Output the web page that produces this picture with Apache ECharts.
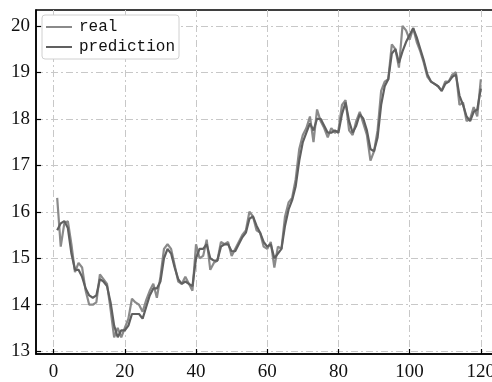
<!DOCTYPE html>
<html>
<head>
<meta charset="utf-8">
<script src="https://cdn.jsdelivr.net/npm/echarts@6/dist/echarts.min.js"></script>
<style>
  html, body { margin: 0; padding: 0; background: #fff; overflow: hidden; }
  /* the original figure is cropped on the right, so the canvas is wider than the window */
  #chart { width: 512px; height: 382px; }
</style>
</head>
<body>
<div id="chart"></div>
<script>
// time steps 1..120
const steps = Array.from({ length: 120 }, (_, i) => i + 1);

const real = [
  16.3, 15.25, 15.75, 15.8, 15.3, 14.7, 14.9, 14.8, 14.3, 14.0,
  14.0, 14.05, 14.65, 14.55, 14.45, 13.9, 13.3, 13.5, 13.3, 13.5,
  13.7, 14.13, 14.05, 14.0, 13.85, 14.1, 14.3, 14.45, 14.15, 14.6,
  15.2, 15.3, 15.2, 14.85, 14.5, 14.45, 14.6, 14.45, 14.3, 15.3,
  15.0, 15.05, 15.4, 14.75, 14.9, 14.95, 15.35, 15.3, 15.35, 15.05,
  15.2, 15.35, 15.5, 15.6, 16.0, 15.9, 15.6, 15.55, 15.25, 15.2,
  15.35, 14.8, 15.25, 15.2, 15.9, 16.2, 16.3, 16.7, 17.35, 17.65,
  17.8, 18.05, 17.5, 18.2, 17.95, 17.8, 17.6, 17.8, 17.7, 17.75,
  18.3, 18.4, 17.75, 17.65, 17.95, 18.15, 17.9, 17.65, 17.1, 17.3,
  17.75, 18.6, 18.8, 18.85, 19.6, 19.5, 19.1, 20.0, 19.9, 19.7,
  19.95, 19.65, 19.45, 19.2, 18.9, 18.8, 18.75, 18.7, 18.6, 18.8,
  18.8, 18.95, 19.0, 18.3, 18.35, 17.95, 18.0, 18.25, 18.05, 18.85
];

const prediction = [
  15.6, 15.75, 15.8, 15.65, 15.1, 14.75, 14.75, 14.6, 14.35, 14.2,
  14.15, 14.2, 14.55, 14.5, 14.4, 14.05, 13.55, 13.3, 13.45, 13.45,
  13.55, 13.8, 13.8, 13.8, 13.7, 13.95, 14.2, 14.35, 14.35, 14.5,
  15.0, 15.2, 15.1, 14.8, 14.55, 14.45, 14.5, 14.45, 14.4, 15.0,
  15.2, 15.2, 15.3, 15.0, 14.95, 14.95, 15.25, 15.3, 15.3, 15.15,
  15.15, 15.3, 15.45, 15.55, 15.85, 15.9, 15.7, 15.55, 15.35, 15.25,
  15.3, 15.0, 15.1, 15.2, 15.7, 16.05, 16.25, 16.55, 17.1, 17.5,
  17.7, 17.9, 17.75, 18.0, 18.0, 17.85, 17.7, 17.7, 17.75, 17.7,
  18.1, 18.35, 17.95, 17.7, 17.85, 18.1, 18.0, 17.75, 17.35, 17.3,
  17.6, 18.3, 18.7, 18.85, 19.4, 19.5, 19.2, 19.45, 19.65, 19.8,
  19.95, 19.75, 19.5, 19.25, 18.95, 18.8, 18.75, 18.7, 18.6, 18.75,
  18.8, 18.9, 18.95, 18.5, 18.3, 18.05, 17.95, 18.15, 18.2, 18.65
];

const xTicks = [0, 20, 40, 60, 80, 100, 120];
const yTicks = [13, 14, 15, 16, 17, 18, 19, 20];

const chart = echarts.init(document.getElementById('chart'));

const gridLine = {
  show: true,
  lineStyle: { color: '#c8c8c8', width: 1, type: [7, 3, 2, 3] }
};
const labelFont = { fontFamily: 'Liberation Serif', fontSize: 19, color: '#111' };

chart.setOption({
  animation: false,
  backgroundColor: '#fff',
  grid: {
    left: 36, top: 10, right: 10, bottom: 26,
    show: true, borderColor: '#000', borderWidth: 1.5
  },
  legend: {
    left: 42, top: 15,
    orient: 'vertical',
    backgroundColor: '#fff',
    borderColor: '#d0d0d0',
    borderWidth: 1,
    borderRadius: 3,
    padding: [4, 4, 4, 4],
    itemGap: 4,
    itemWidth: 26,
    itemHeight: 2,
    icon: 'rect',
    textStyle: { fontFamily: 'Liberation Mono', fontSize: 16, color: '#111', padding: [0, 0, 0, 2] },
    data: ['real', 'prediction']
  },
  xAxis: {
    type: 'value',
    min: -4.95,
    max: 125.95,
    axisLine: { show: true, onZero: false, lineStyle: { color: '#000', width: 1.5 } },
    axisTick: { show: true, inside: true, length: 5, customValues: xTicks, lineStyle: { color: '#000', width: 1.2 } },
    axisLabel: { ...labelFont, margin: 9, customValues: xTicks, showMinLabel: true, showMaxLabel: true },
    splitLine: gridLine
  },
  yAxis: {
    type: 'value',
    min: 12.94,
    max: 20.34,
    axisLine: { show: true, onZero: false, lineStyle: { color: '#000', width: 1.5 } },
    axisTick: { show: true, inside: true, length: 5, customValues: yTicks, lineStyle: { color: '#000', width: 1.2 } },
    axisLabel: { ...labelFont, margin: 6, customValues: yTicks },
    splitLine: gridLine
  },
  series: [
    {
      name: 'real',
      type: 'line',
      data: steps.map((t, i) => [t, real[i]]),
      showSymbol: false,
      itemStyle: { color: '#8a8a8a' },
      lineStyle: { color: '#8a8a8a', width: 2.2 }
    },
    {
      name: 'prediction',
      type: 'line',
      data: steps.map((t, i) => [t, prediction[i]]),
      showSymbol: false,
      itemStyle: { color: '#606060' },
      lineStyle: { color: '#606060', width: 2.2 }
    }
  ]
});
</script>
</body>
</html>
